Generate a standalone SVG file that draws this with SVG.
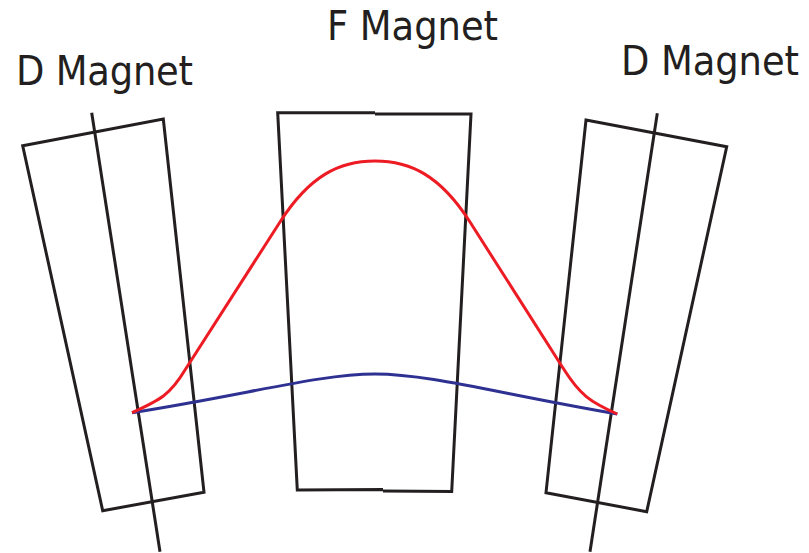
<svg xmlns="http://www.w3.org/2000/svg" width="809" height="553" viewBox="0 0 809 553">
<style>
.mag{fill:none;stroke:#231f20;stroke-width:3;stroke-linejoin:miter}
.ax{fill:none;stroke:#231f20;stroke-width:3}
.lbl{font-family:"DejaVu Sans Condensed","Liberation Sans Narrow","Liberation Sans",sans-serif;font-size:41px;fill:#231f20}
.red{fill:none;stroke:#ed1c24;stroke-width:3}
.blue{fill:none;stroke:#2e3192;stroke-width:3}
</style>
<rect width="809" height="553" fill="#fff"/>
<g id="d-magnet-left">
<polygon class="mag" points="22.7,145.7 163.3,119 204,492.3 102.7,510.7"/>
<line class="ax" x1="91.7" y1="112.7" x2="160" y2="551.7"/>
<text class="lbl" x="16" y="85" textLength="177">D Magnet</text>
</g>
<g id="f-magnet">
<path class="mag" d="M375,112.7 L277.7,112.7 L297.3,490 L383,489.5 M375,114 L471,114 L451.7,491.5 L383,491"/>
<text class="lbl" x="327" y="40" textLength="171">F Magnet</text>
</g>
<g id="d-magnet-right">
<polygon class="mag" points="586,120 726.7,146.7 646.7,511.7 546,492.7"/>
<line class="ax" x1="657.3" y1="113.3" x2="590" y2="551.7"/>
<text class="lbl" x="621" y="74.5" textLength="178">D Magnet</text>
</g>
<g id="connectors">
<path class="blue" d="M132,412.7 C250,394 320,374 375,374 C430,374 500,394 617.3,414"/>
<path class="red" d="M132,412.7 C160,400 170,395 185,370 L280,222 C310,175 340,161 375,161 C410,161 440,175 470,222 L563,368 C580,395 590,402 617.3,414"/>
</g>
</svg>
